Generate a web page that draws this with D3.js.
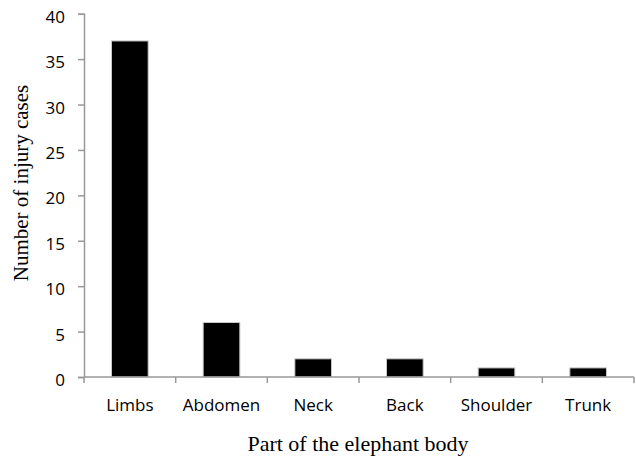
<!DOCTYPE html>
<html><head><meta charset="utf-8">
<script src="https://cdn.jsdelivr.net/npm/d3@7"></script>
<style>body{margin:0;background:#fff}</style>
</head><body>
<svg id="c" width="636" height="461"></svg>
<script>
const categories = ["Limbs","Abdomen","Neck","Back","Shoulder","Trunk"];
const values = [37,6,2,2,1,1];
const yTicks = [0,5,10,15,20,25,30,35,40];

const svg = d3.select("#c");
const m = {left:84, right:2, top:13.7, bottom:84};
const W = 636, H = 461;
const x = d3.scaleBand().domain(categories).range([m.left, W - m.right]).paddingInner(0.6).paddingOuter(0.3);
const y = d3.scaleLinear().domain([0,40]).range([H - m.bottom, m.top]);
const axisColor = "#999";

// bars
svg.append("g").selectAll("rect").data(categories).join("rect")
  .attr("x", d => x(d))
  .attr("width", x.bandwidth())
  .attr("y", (d,i) => y(values[i]))
  .attr("height", (d,i) => y(0) - y(values[i]))
  .attr("fill", "#000")
  .attr("stroke", "#c8c8c8")
  .attr("stroke-width", 1);

// y axis
const ya = svg.append("g").attr("transform", `translate(${m.left},0)`)
  .call(d3.axisLeft(y).tickValues(yTicks).tickSize(6).tickPadding(13));
ya.select(".domain").attr("stroke", axisColor).attr("stroke-width", 1.5);
ya.selectAll(".tick line").attr("stroke", axisColor).attr("stroke-width", 1.5);
ya.selectAll(".tick text").attr("font-family", "'Open Sans', 'DejaVu Sans', sans-serif").attr("font-size", 17).attr("fill", "#000").attr("dy", "0.5em");

// x axis with ticks at band boundaries
const xa = svg.append("g").attr("transform", `translate(0,${y(0)})`);
xa.append("line").attr("x1", m.left).attr("x2", W - m.right).attr("stroke", axisColor).attr("stroke-width", 1.5);
const step = (W - m.right - m.left) / categories.length;
xa.selectAll(".tk").data(d3.range(categories.length + 1)).join("line")
  .attr("x1", i => m.left + i*step).attr("x2", i => m.left + i*step)
  .attr("y1", 0).attr("y2", 6).attr("stroke", axisColor).attr("stroke-width", 1.5);
xa.selectAll(".lb").data(categories).join("text")
  .attr("x", d => x(d) + x.bandwidth()/2).attr("y", 34)
  .attr("text-anchor", "middle")
  .attr("font-family", "'Open Sans', 'DejaVu Sans', sans-serif").attr("font-size", 17).attr("fill", "#000")
  .text(d => d);

// axis titles
svg.append("text").attr("x", 358).attr("y", 451).attr("text-anchor", "middle")
  .attr("font-family", "'Liberation Serif', 'Times New Roman', serif").attr("font-size", 22)
  .text("Part of the elephant body");
svg.append("text").attr("transform", "translate(28,183) rotate(-90)").attr("text-anchor", "middle")
  .attr("font-family", "'Liberation Serif', 'Times New Roman', serif").attr("font-size", 21)
  .text("Number of injury cases");
</script>
</body></html>
